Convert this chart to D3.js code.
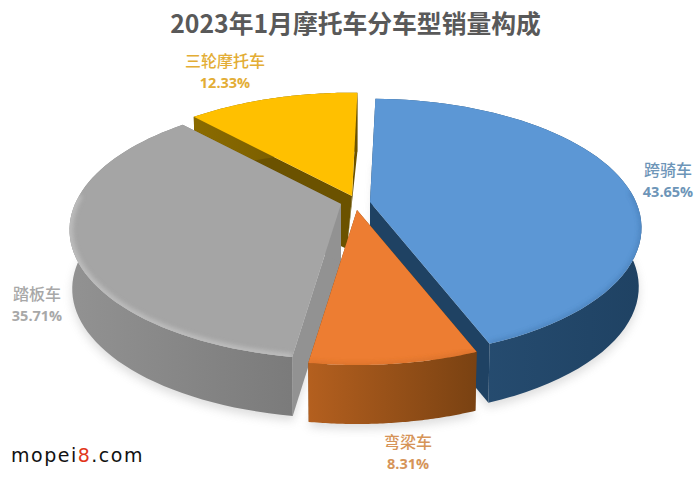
<!DOCTYPE html>
<html><head><meta charset="utf-8">
<script src="https://cdn.jsdelivr.net/npm/d3@7/dist/d3.min.js"></script>
<style>html,body{margin:0;padding:0;background:#fff}svg{display:block}</style></head>
<body><svg id="c" width="700" height="478"></svg>
<script>
const titleText = "2023年1月摩托车分车型销量构成";
const categories = ["跨骑车","弯梁车","踏板车","三轮摩托车"];
const shares = [43.65,8.31,35.71,12.33];
const shareLabels = ["43.65%","8.31%","35.71%","12.33%"];
const topColors = ["#5b97d5","#ed7d31","#a5a5a5","#ffc000"];
const wallDark = ["#1f4263","#7a4212","#7a7a7a","#6b5200"];
const wallLight = ["#2a5278","#b5601f","#929292","#8c6c00"];
const innerWall = ["#1f4263","#7a4212","#929292","#6b5200"];
const labelColors = ["#6d95b8","#d69458","#a8a8a8","#e3ad35"];
const apexX = [370,357,341,352];
const apexY = [202,210,204,196];
const labelX = [668,408,37,225];
const labelY = [170,442,294,61];
const drawOrder = [3,2,0,1];

const svg = d3.select("#c");
const defs = svg.append("defs");
const rad = d3.scaleLinear().domain([0,360]).range([0,2*Math.PI]);
const pie = d3.pie().sort(null).value(d=>d).startAngle(rad(1.4)).endAngle(rad(361.4));
const arcs = pie(shares);

const R=266, Ry=124, P=0.2, KX=0.99, H=59;
function proj(i,t,bottom){
  const s=1/(1+P*Math.cos(t));
  const dx=R*Math.sin(t)*s, dy=-Ry*Math.cos(t)*s;
  return bottom?[apexX[i]+KX*dx,apexY[i]+dy+H]:[apexX[i]+dx,apexY[i]+dy];
}
function arcPts(i,bottom){
  const a=arcs[i], n=60;
  return d3.range(n+1).map(k=>proj(i,a.startAngle+(a.endAngle-a.startAngle)*k/n,bottom));
}
const line=d3.line().curve(d3.curveLinear);
const close=p=>line(p)+"Z";

const blur=(id,sd)=>defs.append("filter").attr("id",id).attr("x","-20%").attr("y","-20%").attr("width","140%").attr("height","140%")
  .append("feGaussianBlur").attr("stdDeviation",sd);
blur("shadow",5); blur("rim",2.5); blur("soft",0.6);

const gradX=[[370,640],[305,475],[70,300],[190,360]];
arcs.forEach((a,i)=>{
  const g=defs.append("linearGradient").attr("id","wall"+i).attr("gradientUnits","userSpaceOnUse")
    .attr("x1",gradX[i][0]).attr("x2",gradX[i][1]).attr("y1",0).attr("y2",0);
  g.append("stop").attr("offset",0).attr("stop-color",wallLight[i]);
  g.append("stop").attr("offset",1).attr("stop-color",wallDark[i]);
});

const shadow=svg.append("g").attr("filter","url(#shadow)").attr("opacity",.28).attr("transform","translate(0,5)");
[0,1,2].forEach(i=>shadow.append("path").attr("d",close(arcPts(i,true).concat([[apexX[i],apexY[i]+H]]))).attr("fill","#888"));

drawOrder.forEach(i=>{
  const g=svg.append("g");
  const top=arcPts(i,false), bot=arcPts(i,true);
  const apex=[apexX[i],apexY[i]], apexB=[apexX[i]-(i===3?5:0),apexY[i]+H-(i===3?6:0)];
  g.append("path").attr("d",close([apex,top[0],bot[0],apexB])).attr("fill",innerWall[i]);
  g.append("path").attr("d",close([apex,top[60],bot[60],apexB])).attr("fill",innerWall[i]);
  g.append("path").attr("d",close(top.concat(bot.slice().reverse()))).attr("fill",`url(#wall${i})`);
  const clipId="clip"+i;
  defs.append("clipPath").attr("id",clipId).append("path").attr("d",close(top.concat([apex])));
  g.append("path").attr("d",close(top.concat([apex]))).attr("fill",topColors[i]).attr("filter","url(#soft)");
  const rim=top.filter((p,k)=>Math.cos(arcs[i].startAngle+(arcs[i].endAngle-arcs[i].startAngle)*k/60)<0.1);
  if(rim.length>1 && i!==3){
    g.append("g").attr("clip-path",`url(#${clipId})`).append("path").attr("d",line(rim))
      .attr("fill","none").attr("stroke",i===2?"#c8c8c8":(i===1?"#c96a28":"#3f76ad")).attr("stroke-width",i===2?6:3).attr("filter","url(#rim)").attr("opacity",.8);
  }
});

const CJK='"Noto Sans CJK SC","Noto Sans",sans-serif';
svg.append("text").attr("x",355.5).attr("y",33).attr("text-anchor","middle").attr("font-family",CJK)
  .attr("font-size",24.8).attr("font-weight",700).attr("fill","#595959").text(titleText);
categories.forEach((c,i)=>{
  svg.append("text").attr("x",labelX[i]).attr("y",labelY[i]+6).attr("text-anchor","middle").attr("font-family",CJK)
    .attr("font-size",16).attr("font-weight",500).attr("fill",labelColors[i]).text(c);
  svg.append("text").attr("x",labelX[i]).attr("y",labelY[i]+27).attr("text-anchor","middle").attr("font-family",'"Open Sans","Noto Sans",sans-serif')
    .attr("font-size",14.5).attr("font-weight",700).attr("fill",labelColors[i]).text(shareLabels[i]);
});
const wm=svg.append("text").attr("x",11).attr("y",462).attr("font-family",'"DejaVu Sans",sans-serif')
  .attr("font-size",19).attr("letter-spacing",1.5).attr("fill","#111");
wm.append("tspan").text("mopei");
wm.append("tspan").attr("fill","#e2361a").text("8");
wm.append("tspan").text(".com");
</script></body></html>
